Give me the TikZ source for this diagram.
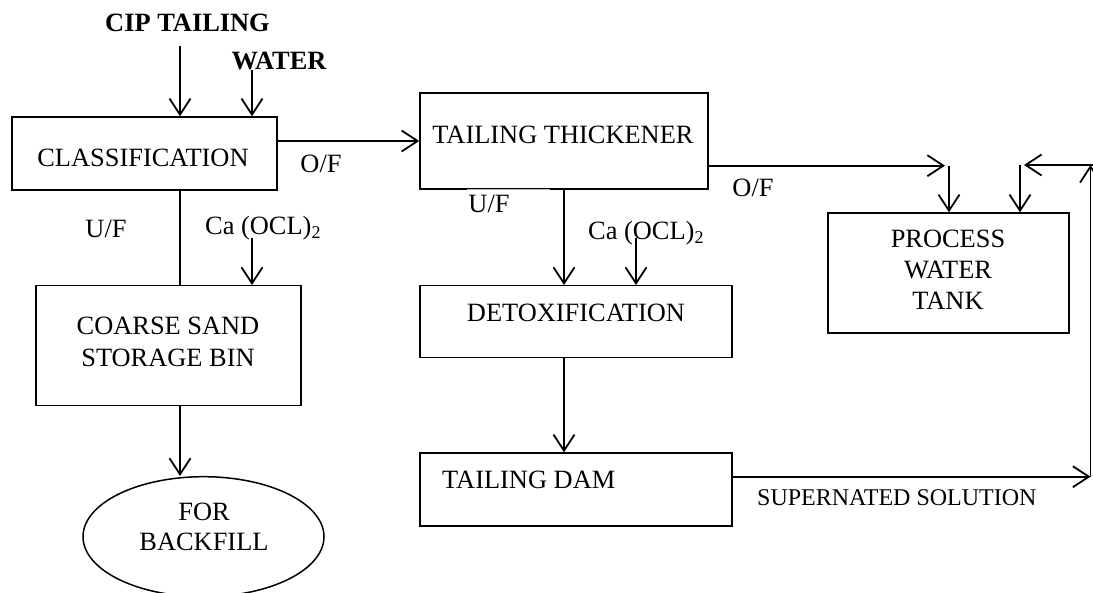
\documentclass[tikz,border=0pt]{standalone}
\usepackage{fontspec}
\setmainfont{Liberation Serif}
\usetikzlibrary{arrows.meta,shapes.geometric}
\begin{document}
\begin{tikzpicture}[x=1pt,y=-1pt,
  box/.style={draw, line width=1.5pt, inner sep=0pt, rectangle},
  txt/.style={inner sep=0pt, font=\fontsize{26.4}{31}\selectfont},
  btxt/.style={inner sep=0pt, font=\fontsize{26.4}{31}\selectfont\bfseries},
  stxt/.style={inner sep=0pt, font=\fontsize{24}{28}\selectfont},
  arr/.style={-{Straight Barb[length=16pt,width=21pt]}, line width=1.8pt},
  ln/.style={line width=1.8pt}]
\fill[white] (0,0) rectangle (1093,593);
\useasboundingbox (0,0) rectangle (1093,593);

% boxes
\node[box, minimum width=265pt, minimum height=73pt] (cls) at (144.5,153.5) {};
\node[box, minimum width=288pt, minimum height=96pt] (tt) at (564,141) {};
\node[box, minimum width=312pt, minimum height=72pt] (dx) at (576,321.7) {};
\node[box, minimum width=312pt, minimum height=72.7pt] (dam) at (576,489.4) {};
\node[box, minimum width=241pt, minimum height=120pt] (pwt) at (948.3,273) {};
\node[box, minimum width=265pt, minimum height=120pt] (cs) at (168.5,345.7) {};
\node[draw, ellipse, line width=1.5pt, inner sep=0pt, minimum width=241pt, minimum height=120pt] (bf) at (203.5,536.7) {};

% gap in thickener bottom edge
\draw[white, line width=2.2pt] ([xshift=48pt]tt.south west) -- ([xshift=131pt]tt.south west);
\draw[gray!55, line width=0.7pt] ([xshift=48pt]tt.south west) -- ([xshift=131pt]tt.south west);

% texts
\node[btxt, anchor=base] (cip) at (187.5,32) {CIP TAILING};
\node[btxt, anchor=base] (water) at (279,70) {WATER};
\node[txt, anchor=base] (tcls) at (143,167) {CLASSIFICATION};
\node[txt, anchor=base] (of1) at (321,173) {O/F};
\node[txt, anchor=base] (ttt) at (563,143.3) {TAILING THICKENER};
\node[txt, anchor=base] (uf2) at (489,213) {U/F};
\node[txt, anchor=base] (of2) at (753,197) {O/F};
\node[txt, anchor=base] (uf1) at (106,238) {U/F};
\node[txt, anchor=base west] (ca1) at (205,235) {Ca (OCL)\raisebox{-0.12em}{\fontsize{18}{18}\selectfont 2}};
\node[txt, anchor=base west] (ca2) at (588,240) {Ca (OCL)\raisebox{-0.12em}{\fontsize{18}{18}\selectfont 2}};
\node[txt, anchor=base] (cs1) at (168,335) {COARSE SAND};
\node[txt, anchor=base] (cs2) at (168,366.7) {STORAGE BIN};
\node[txt, anchor=base] (pw1) at (948,248) {PROCESS};
\node[txt, anchor=base] (pw2) at (948,279) {WATER};
\node[txt, anchor=base] (pw3) at (948,310) {TANK};
\node[txt, anchor=base] (tdx) at (576,322) {DETOXIFICATION};
\node[txt, anchor=base west] (tdam) at (442,489) {TAILING DAM};
\node[stxt, anchor=base west] (sup) at (757,505) {SUPERNATED SOLUTION};
\node[txt, anchor=base] (bf1) at (204,520) {FOR};
\node[txt, anchor=base] (bf2) at (204,550.7) {BACKFILL};

% coordinates
\coordinate (c1) at (180,46);
\coordinate (c2) at (252,70);
\coordinate (c3) at (252,238);
\coordinate (c4) at (636,238);
\coordinate (c5) at (945,165.7);
\coordinate (c6) at (949,165.7);
\coordinate (r1) at (1090.5,476.7);
\coordinate (r2) at (1090.5,165);
\coordinate (r3) at (1024,165);
\coordinate (r4) at (1020,165);

% connectors
\draw[arr] (c1) -- (c1 |- cls.north);
\draw[arr] (c2) -- (c2 |- cls.north);
\draw[arr] (cls.east |- tt.center) -- (tt.west);
\draw[ln] (c1 |- cls.south) -- (c1 |- cs.north);
\draw[arr] (c3) -- (c3 |- cs.north);
\draw[arr] (c1 |- cs.south) -- (c1 |- bf.north);
\draw[arr] (tt.south) -- (tt.south |- dx.north);
\draw[arr] (c4) -- (c4 |- dx.north);
\draw[arr] (tt.south |- dx.south) -- (tt.south |- dam.north);
\draw[arr] ([yshift=-24.7pt]tt.east) -- (c5);
\draw[arr] (c6) -- (c6 |- pwt.north);
\draw[arr] ([yshift=12.7pt]dam.east) -- (r1);
\draw[arr] (r1) -- (r2);
\draw[arr] (1093,165) -- (r3);
\draw[arr] (r4) -- (r4 |- pwt.north);
\end{tikzpicture}
\end{document}
